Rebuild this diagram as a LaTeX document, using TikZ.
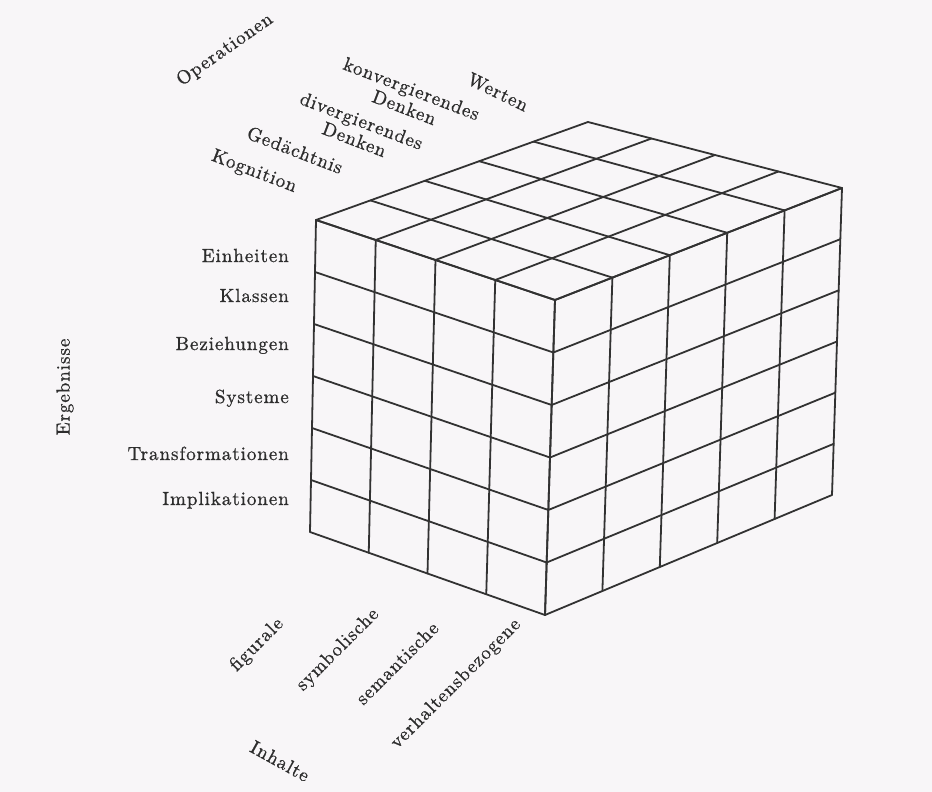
\documentclass[tikz,border=0pt]{standalone}
\usepackage{fontspec}
\setmainfont{lmroman10-regular.otf}[LetterSpace=5,FakeBold=0.9]
\usetikzlibrary{calc}
\definecolor{bgcol}{RGB}{248,246,248}
\definecolor{inkcol}{RGB}{50,50,50}
\definecolor{txtcol}{RGB}{45,45,45}
\tikzset{
  gridline/.style={draw=inkcol, line width=1.8pt, line cap=round, line join=round},
  lbl/.style={text=txtcol, inner sep=0pt, font=\fontsize{19}{20}\selectfont},
  toplbl/.style={lbl, rotate=-21, align=center},
  botlbl/.style={lbl, rotate=45},
  rowlbl/.style={lbl, anchor=base east}
}
\begin{document}
\begin{tikzpicture}[x=1pt, y=-1pt]
\fill[bgcol] (0,0) rectangle (932,792);
\useasboundingbox (0,0) rectangle (932,792);

% cube corners
\coordinate (A) at (316,220);
\coordinate (B) at (588,122);
\coordinate (C) at (842,188);
\coordinate (F) at (555,300);
\coordinate (G) at (310,532);
\coordinate (H) at (545,615);
\coordinate (I) at (832,495);

% left face: 4 columns, 6 rows
\foreach \k in {0,...,4} \draw[gridline] ($(A)!\k/4!(F)$) -- ($(G)!\k/4!(H)$);
\foreach \j in {0,...,6} \draw[gridline] ($(A)!\j/6!(G)$) -- ($(F)!\j/6!(H)$);
% right face: 5 columns, 6 rows
\foreach \k in {0,...,5} \draw[gridline] ($(F)!\k/5!(C)$) -- ($(H)!\k/5!(I)$);
\foreach \j in {0,...,6} \draw[gridline] ($(F)!\j/6!(H)$) -- ($(C)!\j/6!(I)$);
% top face
\foreach \k in {0,...,5} \draw[gridline] ($(A)!\k/5!(B)$) -- ($(F)!\k/5!(C)$);
\foreach \j in {0,...,4} \draw[gridline] ($(A)!\j/4!(F)$) -- ($(B)!\j/4!(C)$);

% Ergebnisse
\node[rowlbl] (einh) at (289,262) {Einheiten};
\node[rowlbl] (klas) at (289,302) {Klassen};
\node[rowlbl] (bez)  at (289,350) {Beziehungen};
\node[rowlbl] (sys)  at (289,403) {Systeme};
\node[rowlbl] (trans) at (289,460) {Transformationen};
\node[rowlbl] (impl) at (289,505) {Implikationen};
\node[lbl, rotate=90] (erg) at (65,387) {Ergebnisse};

% Operationen
\node[lbl, rotate=35] (op) at (225,50) {Operationen};
\node[toplbl] (kog) at (254,172) {Kognition};
\node[toplbl] (ged) at (295,150) {Gedächtnis};
\node[toplbl] (div) at (358,130) {divergierendes\\Denken};
\node[toplbl] (konv) at (408,98) {konvergierendes\\Denken};
\node[lbl, rotate=-26] (wert) at (498,92) {Werten};

% Inhalte
\node[botlbl] (fig) at (257,645) {figurale};
\node[botlbl] (sym) at (338,650) {symbolische};
\node[botlbl] (sem) at (397,663) {semantische};
\node[botlbl] (verh) at (456,684) {verhaltensbezogene};
\node[lbl, rotate=-29] (inh) at (280,761) {Inhalte};
\end{tikzpicture}
\end{document}
